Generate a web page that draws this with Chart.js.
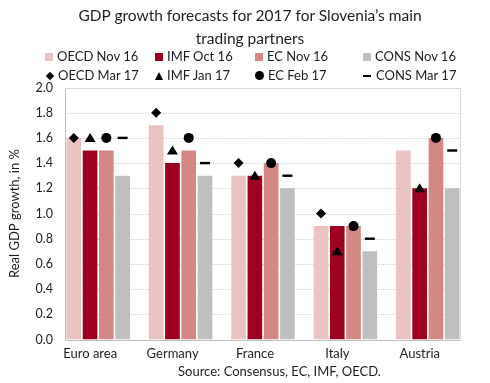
<!DOCTYPE html>
<html><head><meta charset="utf-8">
<script src="https://cdn.jsdelivr.net/npm/chart.js@4/dist/chart.umd.min.js"></script>
<style>
html,body{margin:0;padding:0;background:#fff;}
#wrap{position:relative;width:490px;height:383px;font-family:Lato,'Open Sans',sans-serif;color:#1e1e1e;overflow:hidden;}
#c{position:absolute;left:0;top:0;}
.title{position:absolute;left:0;width:500px;text-align:center;font-size:15.5px;line-height:20px;}
.item{position:absolute;font-size:13px;line-height:16px;white-space:nowrap;}
.sym{display:inline-block;vertical-align:middle;margin-right:4px;position:relative;top:-1px;}
.sq{width:8px;height:8px;}
.dia{width:6px;height:6px;background:#000;transform:rotate(45deg);margin-left:2px;margin-right:5px;}
.tri{width:0;height:0;border-left:4.5px solid transparent;border-right:4.5px solid transparent;border-bottom:8px solid #000;}
.cir{width:9px;height:9px;border-radius:50%;background:#000;}
.dash{width:8px;height:2px;background:#000;margin-right:5px;}
#src{position:absolute;left:178px;top:363px;font-size:13px;line-height:16px;white-space:nowrap;}
</style></head>
<body>
<div id="wrap">
<canvas id="c" width="490" height="383"></canvas>
<div class="title" style="top:5px;">GDP growth forecasts for 2017 for Slovenia’s main</div>
<div class="title" style="top:28px;">trading partners</div>
<div id="legend"></div>
<div id="src">Source: Consensus, EC, IMF, OECD.</div>
</div>
<script>
const categories = ['Euro area', 'Germany', 'France', 'Italy', 'Austria'];
const oecdNov16 = [1.6, 1.7, 1.3, 0.9, 1.5];
const imfOct16  = [1.5, 1.4, 1.3, 0.9, 1.2];
const ecNov16   = [1.5, 1.5, 1.4, 0.9, 1.6];
const consNov16 = [1.3, 1.3, 1.2, 0.7, 1.2];
const oecdMar17 = [1.6, 1.8, 1.4, 1.0, null];
const imfJan17  = [1.6, 1.5, 1.3, 0.7, 1.2];
const ecFeb17   = [1.6, 1.6, 1.4, 0.9, 1.6];
const consMar17 = [1.6, 1.4, 1.3, 0.8, 1.5];
const yTickMin = 0, yTickMax = 2.0, yTickStep = 0.2;

const barColors = ['#ebc3c3', '#9e0020', '#d48886', '#bfbfbf'];
const barNames = ['OECD Nov 16', 'IMF Oct 16', 'EC Nov 16', 'CONS Nov 16'];
const markNames = ['OECD Mar 17', 'IMF Jan 17', 'EC Feb 17', 'CONS Mar 17'];
const markShapes = ['diamond', 'triangle', 'circle', 'dash'];
const barData = [oecdNov16, imfOct16, ecNov16, consNov16];
const markData = [oecdMar17, imfJan17, ecFeb17, consMar17];

// HTML legend
const legend = document.getElementById('legend');
const colX = [45, 155, 255, 363];
const symCls = ['dia', 'tri', 'cir', 'dash'];
barNames.forEach((n, i) => {
  const d = document.createElement('div'); d.className = 'item';
  d.style.left = colX[i] + 'px'; d.style.top = '48px';
  d.innerHTML = '<span class="sym sq" style="background:' + barColors[i] + '"></span>' + n;
  legend.appendChild(d);
});
markNames.forEach((n, i) => {
  const d = document.createElement('div'); d.className = 'item';
  d.style.left = colX[i] + 'px'; d.style.top = '67px';
  d.innerHTML = '<span class="sym ' + symCls[i] + '"></span>' + n;
  legend.appendChild(d);
});

const datasets = [];
barData.forEach((arr, i) => datasets.push({
  label: barNames[i], data: arr, backgroundColor: barColors[i], stack: 's' + i,
  categoryPercentage: 0.79, barPercentage: 0.9
}));
markData.forEach((arr, i) => datasets.push({
  label: markNames[i], data: arr, backgroundColor: 'rgba(0,0,0,0)', stack: 's' + i,
  categoryPercentage: 0.79, barPercentage: 0.9, marker: markShapes[i]
}));

const framePlugin = {
  id: 'frame',
  beforeDatasetsDraw(chart) {
    const ctx = chart.ctx, y = chart.scales.y, area = chart.chartArea;
    const first = chart.getDatasetMeta(0).data[0];
    const lastMeta = chart.getDatasetMeta(3).data;
    const last = lastMeta[lastMeta.length - 1];
    const L = Math.round(first.x - first.width / 2) - 0.5;
    const R = Math.round(last.x + last.width / 2) + 0.5;
    ctx.save();
    ctx.lineWidth = 1;
    ctx.strokeStyle = '#c4c4c4';
    ctx.setLineDash([1, 1.5]);
    y.ticks.forEach(t => {
      if (t.value <= 0 || t.value >= 2) return;
      const py = Math.round(y.getPixelForValue(t.value)) + 0.5;
      ctx.beginPath(); ctx.moveTo(L, py); ctx.lineTo(R, py); ctx.stroke();
    });
    ctx.setLineDash([]);
    const top = Math.round(y.getPixelForValue(2)) + 0.5;
    const bot = Math.round(y.getPixelForValue(0)) + 0.5;
    ctx.strokeStyle = '#d9d9d9';
    ctx.beginPath(); ctx.moveTo(L, top); ctx.lineTo(R, top); ctx.lineTo(R, bot); ctx.stroke();
    ctx.strokeStyle = '#bfbfbf';
    ctx.beginPath(); ctx.moveTo(L, top); ctx.lineTo(L, bot); ctx.lineTo(R, bot); ctx.stroke();
    ctx.restore();
  },
  afterDatasetsDraw(chart) {
    const ctx = chart.ctx;
    ctx.save();
    ctx.fillStyle = '#000';
    chart.data.datasets.forEach((ds, di) => {
      if (!ds.marker) return;
      chart.getDatasetMeta(di).data.forEach((el, j) => {
        if (ds.data[j] == null) return;
        const x = el.x, yy = el.y;
        ctx.beginPath();
        if (ds.marker === 'diamond') {
          ctx.moveTo(x, yy - 5); ctx.lineTo(x + 5, yy); ctx.lineTo(x, yy + 5); ctx.lineTo(x - 5, yy); ctx.closePath(); ctx.fill();
        } else if (ds.marker === 'triangle') {
          ctx.moveTo(x, yy - 5); ctx.lineTo(x + 5.5, yy + 4); ctx.lineTo(x - 5.5, yy + 4); ctx.closePath(); ctx.fill();
        } else if (ds.marker === 'circle') {
          ctx.arc(x, yy, 5, 0, Math.PI * 2); ctx.fill();
        } else {
          ctx.fillRect(x - 5, yy - 1.2, 10, 2.4);
        }
      });
    });
    ctx.restore();
  }
};

new Chart(document.getElementById('c'), {
  type: 'bar',
  data: { labels: categories, datasets },
  options: {
    responsive: false, animation: false,
    layout: { padding: { top: 87.5, right: 21, bottom: 0, left: 0 } },
    plugins: { legend: { display: false }, title: { display: false }, tooltip: { enabled: false } },
    scales: {
      x: {
        grid: { display: false, drawTicks: false }, border: { display: false },
        ticks: { color: '#1e1e1e', font: { family: 'Lato', size: 13 }, padding: 7, labelOffset: -8, maxRotation: 0 },
        afterFit(s) { s.height = 43.5; }
      },
      y: {
        stacked: false, min: yTickMin, max: yTickMax,
        grid: { display: false, drawTicks: false }, border: { display: false },
        ticks: { stepSize: yTickStep, color: '#1e1e1e', font: { family: 'Lato', size: 12.5 }, padding: 4,
          callback: v => Number(v).toFixed(1) },
        title: { display: true, text: 'Real GDP growth, in %', color: '#1e1e1e', font: { family: 'Lato', size: 13 }, padding: { top: 7, bottom: 0 } },
        afterFit(s) { s.width = 57; }
      }
    }
  },
  plugins: [framePlugin]
});
</script>
</body></html>
